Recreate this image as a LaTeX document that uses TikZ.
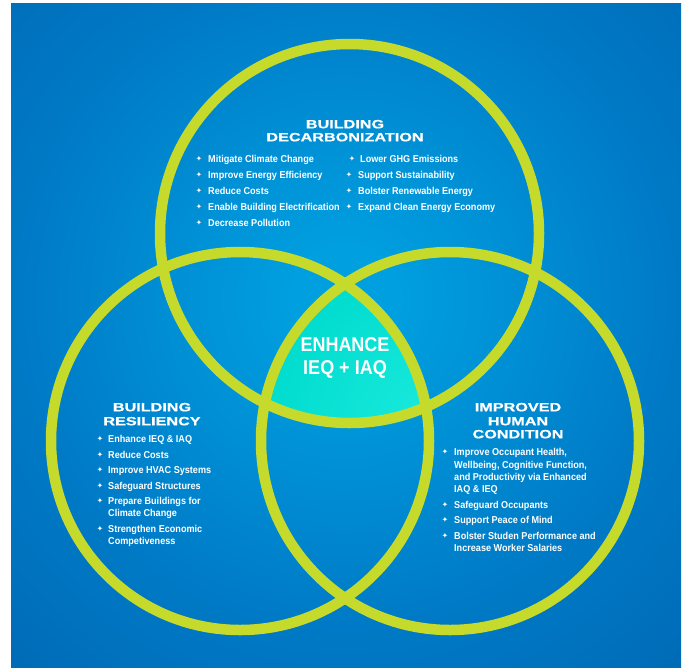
\documentclass[tikz,border=0pt]{standalone}
\usepackage{fontspec}
\setmainfont{Liberation Sans}
\newfontfamily\titlefont{Liberation Sans}[FakeStretch=1.35,FakeBold=0.6]
\newfontfamily\bodyfont{Liberation Sans}[FakeStretch=0.91]
\newfontfamily\centerfont{Liberation Sans}[FakeStretch=0.9]
\newfontfamily\symfont{DejaVu Sans}
\definecolor{bgout}{RGB}{0,90,166}
\definecolor{bgmid}{RGB}{0,122,198}
\definecolor{bgin}{RGB}{0,160,224}
\definecolor{lime}{RGB}{198,218,44}
\definecolor{tealin}{RGB}{30,236,224}
\definecolor{tealout}{RGB}{0,220,206}
\pgfdeclareradialshading{bgshade}{\pgfpoint{0bp}{0bp}}{color(0bp)=(bgin); color(2bp)=(bgin); color(14bp)=(bgmid); color(30bp)=(bgout); color(50bp)=(bgout)}
\tikzset{
  ring/.style={draw=lime, line width=10.5pt},
  ttl/.style={text=white, anchor=base, inner sep=0pt, font=\titlefont\bfseries\fontsize{12}{13}\selectfont},
  btxt/.style={text=white, anchor=base west, inner sep=0pt, font=\bodyfont\bfseries\fontsize{10}{12}\selectfont},
  bul/.style={text=white, anchor=center, inner sep=0pt, font=\symfont\fontsize{7.5}{7.5}\selectfont},
  ctr/.style={text=white, anchor=base, inner sep=0pt, font=\centerfont\bfseries\fontsize{20}{22}\selectfont},
}
\newcommand\bitem[5]{%
  \node[bul] (#1b) at (#2,#4) {✦};
  \node[btxt] (#1) at (#3,#4+3.6) {#5};}
\newcommand\tline[4]{\node[btxt] (#1) at (#2,#3+3.6) {#4};}
\begin{document}
\begin{tikzpicture}[x=1pt,y=-1pt]
\useasboundingbox (0,0) rectangle (684,667);
% background
\begin{scope}
  \clip (11,3) rectangle (681,667);
  \shade[shading=bgshade] (345,300) circle (580pt);
\end{scope}
% center intersection
\begin{scope}
  \clip (349.5,233.5) circle (189.5pt);
  \clip (240,441) circle (189pt);
  \shade[inner color=tealin, outer color=tealout] (450,441) circle (189pt);
\end{scope}
% circles
\draw[ring] (349.5,233.5) circle (189.5pt);
\draw[ring] (240,441) circle (189pt);
\draw[ring] (450,441) circle (189pt);
% top titles
\node[ttl] (t1a) at (345,128.3) {BUILDING};
\node[ttl] (t1b) at (345,141.3) {DECARBONIZATION};
\bitem{a1}{199}{208}{159}{Mitigate Climate Change}
\bitem{a2}{199}{208}{175}{Improve Energy Efficiency}
\bitem{a3}{199}{208}{191}{Reduce Costs}
\bitem{a4}{199}{208}{207}{Enable Building Electrification}
\bitem{a5}{199}{208}{223}{Decrease Pollution}
\bitem{b1}{352}{360}{159}{Lower GHG Emissions}
\bitem{b2}{349}{358}{175}{Support Sustainability}
\bitem{b3}{349}{358}{191}{Bolster Renewable Energy}
\bitem{b4}{349}{358}{207}{Expand Clean Energy Economy}
% left
\node[ttl] (t2a) at (152,411.3) {BUILDING};
\node[ttl] (t2b) at (152,425.3) {RESILIENCY};
\bitem{c1}{100}{108}{439}{Enhance IEQ \& IAQ}
\bitem{c2}{100}{108}{455}{Reduce Costs}
\bitem{c3}{100}{108}{470}{Improve HVAC Systems}
\bitem{c4}{100}{108}{486}{Safeguard Structures}
\bitem{c5}{100}{108}{501}{Prepare Buildings for}
\tline{c5b}{108}{513}{Climate Change}
\bitem{c6}{100}{108}{529}{Strengthen Economic}
\tline{c6b}{108}{541}{Competiveness}
% right
\node[ttl] (t3a) at (518,411.3) {IMPROVED};
\node[ttl] (t3b) at (518,425.3) {HUMAN};
\node[ttl] (t3c) at (518,438.3) {CONDITION};
\bitem{d1}{445}{454}{452}{Improve Occupant Health,}
\tline{d1b}{454}{465}{Wellbeing, Cognitive Function,}
\tline{d1c}{454}{477}{and Productivity via Enhanced}
\tline{d1d}{454}{489}{IAQ \& IEQ}
\bitem{d2}{445}{454}{505}{Safeguard Occupants}
\bitem{d3}{445}{454}{520}{Support Peace of Mind}
\bitem{d4}{445}{454}{536}{Bolster Studen Performance and}
\tline{d4b}{454}{548}{Increase Worker Salaries}
% center text
\node[ctr] (c0a) at (345,351.5) {ENHANCE};
\node[ctr] (c0b) at (345,374.5) {IEQ + IAQ};
\end{tikzpicture}
\end{document}
